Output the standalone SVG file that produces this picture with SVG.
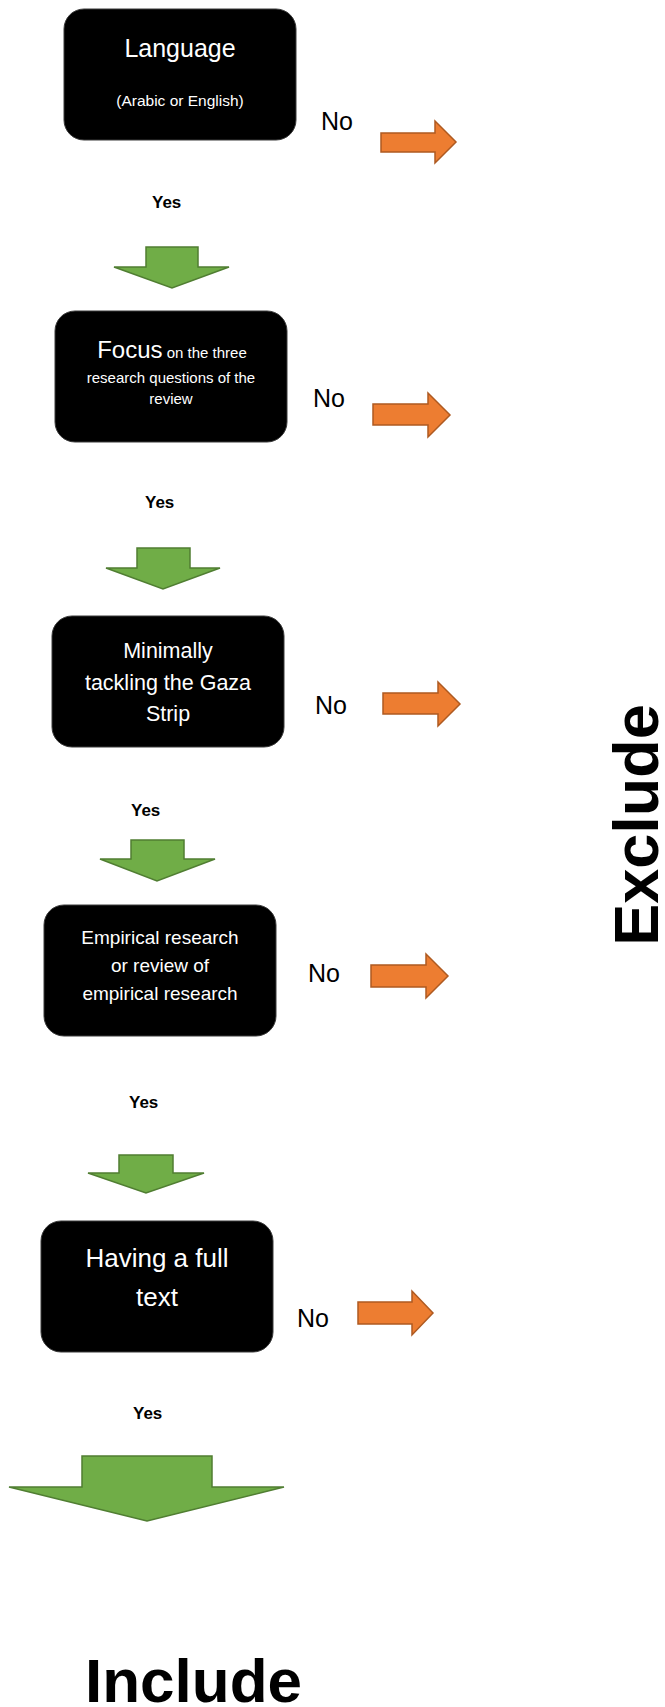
<svg xmlns="http://www.w3.org/2000/svg" width="665" height="1707" viewBox="0 0 665 1707">
<style>
.box{fill:#000;stroke:#3a3a3a;stroke-width:1}
.t{font-family:"Liberation Sans",Arial,sans-serif;fill:#fff;text-anchor:middle}
.no{font-family:"Liberation Sans",Arial,sans-serif;fill:#000;font-size:25px}
.yes{font-family:"Liberation Sans",Arial,sans-serif;fill:#000;font-size:17px;font-weight:bold}
.big{font-family:"Liberation Sans",Arial,sans-serif;fill:#000;font-weight:bold}
.orange{fill:#ED7D31;stroke:#AE5A21;stroke-width:1.5;stroke-linejoin:miter}
.green{fill:#70AD47;stroke:#507E32;stroke-width:1.5;stroke-linejoin:miter}
</style>
<rect width="665" height="1707" fill="#fff"/>
<g id="node-language">
<rect class="box" x="64" y="9" width="232" height="131" rx="20"/>
<text class="t" x="180" y="57" font-size="25">Language</text>
<text class="t" x="180" y="106" font-size="15.5">(Arabic or English)</text>
</g>
<g id="node-focus">
<rect class="box" x="55" y="311" width="232" height="131" rx="20"/>
<text class="t" x="172" y="358"><tspan font-size="24">Focus</tspan><tspan font-size="15"> on the three</tspan></text>
<text class="t" x="171" y="383" font-size="15">research questions of the</text>
<text class="t" x="171" y="404" font-size="15">review</text>
</g>
<g id="node-gaza">
<rect class="box" x="52" y="616" width="232" height="131" rx="20"/>
<text class="t" x="168" y="658" font-size="21.5">Minimally</text>
<text class="t" x="168" y="690" font-size="21.5">tackling the Gaza</text>
<text class="t" x="168" y="721" font-size="21.5">Strip</text>
</g>
<g id="node-empirical">
<rect class="box" x="44" y="905" width="232" height="131" rx="20"/>
<text class="t" x="160" y="944" font-size="19">Empirical research</text>
<text class="t" x="160" y="972" font-size="19">or review of</text>
<text class="t" x="160" y="1000" font-size="19">empirical research</text>
</g>
<g id="node-fulltext">
<rect class="box" x="41" y="1221" width="232" height="131" rx="20"/>
<text class="t" x="157" y="1267" font-size="26">Having a full</text>
<text class="t" x="157" y="1306" font-size="26">text</text>
</g>
<g id="node-exclude">
<text class="big" transform="translate(658,825) rotate(-90)" x="0" y="0" font-size="63" text-anchor="middle">Exclude</text>
</g>
<g id="node-include">
<text class="big" x="85" y="1702" font-size="62">Include</text>
</g>
<g id="connectors">
<text class="no" x="321" y="130">No</text>
<path class="orange" d="M381,133 H435 V121 L456,142 L435,163 V152 H381 Z"/>
<text class="yes" x="152" y="208">Yes</text>
<path class="green" d="M146,247 H198 V267 H229 L172,288 L114,267 H146 Z"/>

<text class="no" x="313" y="407">No</text>
<path class="orange" d="M373,404 H428 V393 L450,415 L428,437 V425 H373 Z"/>
<text class="yes" x="145" y="508">Yes</text>
<path class="green" d="M137,548 H190 V568 H220 L163,589 L106,568 H137 Z"/>

<text class="no" x="315" y="714">No</text>
<path class="orange" d="M383,693 H438 V682 L460,704 L438,726 V714 H383 Z"/>
<text class="yes" x="131" y="816">Yes</text>
<path class="green" d="M131,840 H184 V859 H215 L157,881 L100,859 H131 Z"/>

<text class="no" x="308" y="982">No</text>
<path class="orange" d="M371,965 H426 V954 L448,976 L426,998 V987 H371 Z"/>
<text class="yes" x="129" y="1108">Yes</text>
<path class="green" d="M119,1155 H173 V1173 H204 L146,1193 L88,1173 H119 Z"/>

<text class="no" x="297" y="1327">No</text>
<path class="orange" d="M358,1302 H412 V1291 L433,1313 L412,1335 V1324 H358 Z"/>
<text class="yes" x="133" y="1419">Yes</text>
<path class="green" d="M82,1456 H212 V1487 H284 L147,1521 L9,1487 H82 Z"/>
</g>
</svg>
